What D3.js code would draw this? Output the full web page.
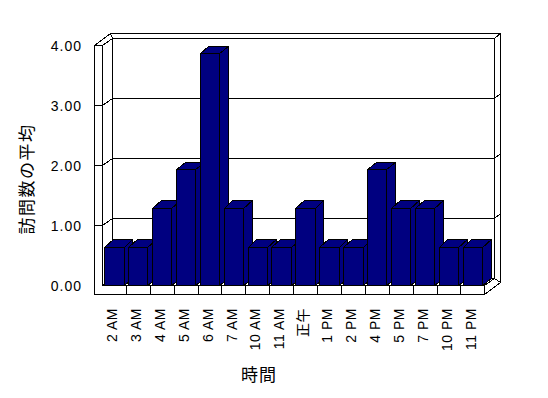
<!DOCTYPE html>
<html><head><meta charset="utf-8">
<script src="https://cdn.jsdelivr.net/npm/d3@7"></script>
<style>body{margin:0;background:#fff;overflow:hidden}</style>
</head><body><svg id="c" width="548" height="398"></svg>
<script>
const categories = ["2 AM","3 AM","4 AM","5 AM","6 AM","7 AM","10 AM","11 AM","正午","1 PM","2 PM","4 PM","5 PM","7 PM","10 PM","11 PM"];
const values = [0.64,0.64,1.29,1.93,3.86,1.29,0.64,0.64,1.29,0.64,0.64,1.93,1.29,1.29,0.64,0.64];
const yTicks = [0,1,2,3,4];
const yTickLabels = ["0.00","1.00","2.00","3.00","4.00"];
const yTitle = "訪問数の平均";
const xTitle = "時間";

const svg = d3.select("#c");
svg.append("rect").attr("width",548).attr("height",398).attr("fill","#fff");

const xOuter = 94.5, x0 = 102.4, xR = 484.8, yFloorBot = 294.5;
const Di = [10, -6.8], Do = [16, -12.5], Db = [8.7, -7.3];
const y = d3.scaleLinear().domain([0,4]).range([285.5,45.5]);
const xb = d3.scaleBand().domain(categories).range([x0,xR]);
const x = d3.scaleBand().domain(categories).range([x0,xR]).paddingInner(0.19).paddingOuter(0.095);

const r = v => Math.round(v - 0.5) + 0.5;
const line = d3.line().x(p => r(p[0])).y(p => r(p[1]));
const g = svg.append("g").attr("stroke","#000").attr("stroke-width",1).attr("fill","#fff")
  .attr("shape-rendering","crispEdges");
const yTop = y(4), y0 = y(0);
const poly = (pts, fill) => g.append("path").attr("d", line(pts)+"Z").attr("fill", fill||"#fff");
const seg = (pts) => g.append("path").attr("d", line(pts)).attr("fill","none");

// back wall front face
poly([[x0+Di[0],yTop+Di[1]],[xR+Di[0],yTop+Di[1]],[xR+Di[0],y0+Di[1]],[x0+Di[0],y0+Di[1]]]);
// back wall top
poly([[xOuter+Do[0],yTop+Do[1]],[xR+Do[0],yTop+Do[1]],[xR+Di[0],yTop+Di[1]],[x0+Di[0],yTop+Di[1]]]);
// back wall right side
poly([[xR+Di[0],yTop+Di[1]],[xR+Do[0],yTop+Do[1]],[xR+Do[0],yFloorBot+Do[1]],[xR+Di[0],y0+Di[1]]]);
// left wall inner face
poly([[x0,yTop],[x0+Di[0],yTop+Di[1]],[x0+Di[0],y0+Di[1]],[x0,y0]]);
// left wall top
poly([[xOuter,yTop],[x0,yTop],[x0+Di[0],yTop+Di[1]],[xOuter+Do[0],yTop+Do[1]]]);
// floor top
poly([[x0,y0],[xR,y0],[xR+Di[0],y0+Di[1]],[x0+Di[0],y0+Di[1]]]);
// floor right side
poly([[xR,y0],[xR,yFloorBot],[xR+Do[0],yFloorBot+Do[1]],[xR+Di[0],y0+Di[1]]]);
// left wall front face + floor front face
poly([[xOuter,yTop],[x0,yTop],[x0,y0],[xR,y0],[xR,yFloorBot],[xOuter,yFloorBot]]);

// gridlines
yTicks.forEach(v => {
  const yy = y(v);
  if (v > 0 && v < 4) {
    seg([[xOuter,yy],[x0,yy],[x0+Di[0],yy+Di[1]],[xR+Di[0],yy+Di[1]],[xR+Do[0],yy+Do[1]]]);
  }
});
// floor dividers
categories.slice(1).forEach(c => seg([[xb(c),y0],[xb(c),yFloorBot]]));

// bars
const bw = x.bandwidth();
categories.forEach((c,i) => {
  const xl = x(c), xr = xl + bw, yt = y(values[i]);
  poly([[xr,y0],[xr+Db[0],y0+Db[1]],[xr+Db[0],yt+Db[1]],[xr,yt]], "#000080");
  poly([[xl,yt],[xl+Db[0],yt+Db[1]],[xr+Db[0],yt+Db[1]],[xr,yt]], "#000080");
  poly([[xl,y0],[xr,y0],[xr,yt],[xl,yt]], "#000080");
});

// y tick labels
svg.append("g").selectAll("text").data(yTicks).join("text")
  .attr("x",82).attr("y",d=>y(d)+2).attr("text-anchor","end").attr("dominant-baseline","middle")
  .attr("font-family","Liberation Sans, Arial, sans-serif").attr("font-size",14).attr("letter-spacing",1)
  .text((d,i)=>yTickLabels[i]);

// category labels
svg.append("g").selectAll("text").data(categories).join("text")
  .attr("transform", d => `translate(${xb(d)+xb.bandwidth()/2-1},308) rotate(-90)`)
  .attr("text-anchor","end").attr("dominant-baseline","middle")
  .attr("font-family","Liberation Sans, Noto Sans CJK JP, sans-serif").attr("font-size",14).attr("letter-spacing",0.5)
  .text(d=>d);

// titles
svg.append("text").attr("transform","translate(28,179) rotate(-90)")
  .attr("text-anchor","middle").attr("dominant-baseline","middle")
  .attr("font-family","Noto Sans CJK JP").attr("font-size",17).attr("letter-spacing",1.5)
  .text(yTitle);
svg.append("text").attr("x",259).attr("y",376)
  .attr("text-anchor","middle").attr("dominant-baseline","middle")
  .attr("font-family","Noto Sans CJK JP").attr("font-size",17).attr("letter-spacing",1)
  .text(xTitle);
</script></body></html>
